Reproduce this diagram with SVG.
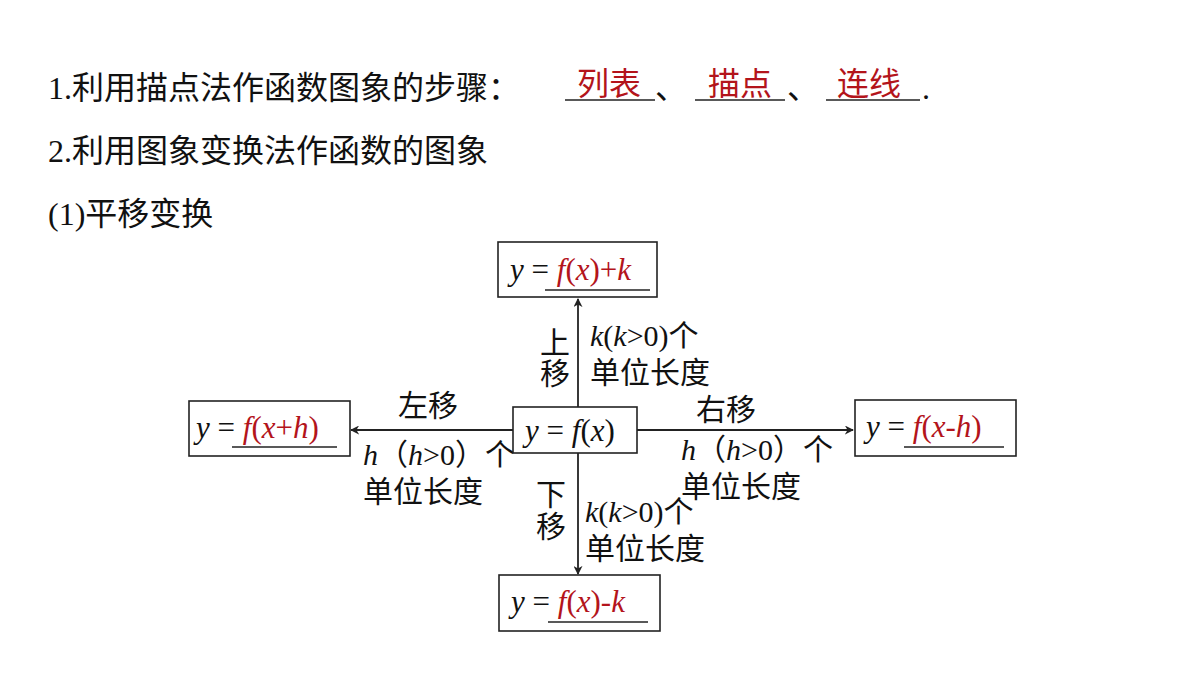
<svg xmlns="http://www.w3.org/2000/svg" width="1200" height="675" viewBox="0 0 1200 675">
<style>
.t{font-family:"Liberation Serif","Noto Sans CJK SC",serif;font-size:32px;fill:#111}
.l{font-family:"Liberation Serif","Noto Sans CJK SC",serif;font-size:30px;fill:#111}
.m{font-family:"Liberation Serif","Noto Sans CJK SC",serif;font-size:31px;fill:#111}
.r{fill:#b3141b}
.i{font-style:italic}
.box{fill:#fff;stroke:#222;stroke-width:1.6}
.ul{stroke:#222;stroke-width:1.5}
.c{stroke:#222;stroke-width:1.8;fill:none}
</style>
<defs><marker id="a" viewBox="0 0 10 10" refX="9" refY="5" markerWidth="9" markerHeight="9" markerUnits="userSpaceOnUse" orient="auto"><path d="M0,0 L10,5 L0,10 L3,5 Z" fill="#222"/></marker></defs>
<rect width="1200" height="675" fill="#fff"/>
<text class="t" x="48" y="99">1.利用描点法作函数图象的步骤：</text>
<text class="t r" x="577" y="95">列表</text>
<text class="t" x="655" y="99">、</text>
<text class="t r" x="708" y="95">描点</text>
<text class="t" x="787" y="99">、</text>
<text class="t r" x="837" y="95">连线</text>
<text class="t" x="922" y="99">.</text>
<g class="ul"><line x1="565" y1="100" x2="655" y2="100"/><line x1="695" y1="100" x2="785" y2="100"/><line x1="826" y1="100" x2="920" y2="100"/></g>
<text class="t" x="48" y="162">2.利用图象变换法作函数的图象</text>
<text class="t" x="48" y="225">(1)平移变换</text>
<g id="connectors">
<line class="c" x1="578" y1="407" x2="578" y2="299" marker-end="url(#a)"/>
<line class="c" x1="578" y1="453" x2="578" y2="574" marker-end="url(#a)"/>
<line class="c" x1="513" y1="430" x2="351" y2="430" marker-end="url(#a)"/>
<line class="c" x1="637" y1="430" x2="853" y2="430" marker-end="url(#a)"/>
<text class="l" x="540" y="353">上</text><text class="l" x="540" y="384">移</text>
<text class="l" x="590" y="346"><tspan class="i">k</tspan>(<tspan class="i">k</tspan>&gt;0)个</text>
<text class="l" x="590" y="383">单位长度</text>
<text class="l" x="536" y="505">下</text><text class="l" x="536" y="537">移</text>
<text class="l" x="585" y="522"><tspan class="i">k</tspan>(<tspan class="i">k</tspan>&gt;0)个</text>
<text class="l" x="585" y="559">单位长度</text>
<text class="l" x="398" y="416">左移</text>
<text class="l" x="363" y="465"><tspan class="i">h</tspan>（<tspan class="i">h</tspan>&gt;0）个</text>
<text class="l" x="363" y="502">单位长度</text>
<text class="l" x="696" y="420">右移</text>
<text class="l" x="681" y="460"><tspan class="i">h</tspan>（<tspan class="i">h</tspan>&gt;0）个</text>
<text class="l" x="681" y="497">单位长度</text>
</g>
<g id="top"><rect class="box" x="498" y="242" width="159" height="55"/><text class="m" x="510" y="280"><tspan class="i">y</tspan> = <tspan class="r"><tspan class="i">f</tspan>(<tspan class="i">x</tspan>)+<tspan class="i">k</tspan></tspan></text><line class="ul" x1="545" y1="290" x2="650" y2="290"/></g>
<g id="center"><rect class="box" x="513" y="407" width="124" height="46"/><text class="m" x="525" y="441"><tspan class="i">y</tspan> = <tspan class="i">f</tspan>(<tspan class="i">x</tspan>)</text></g>
<g id="left"><rect class="box" x="189" y="401" width="161" height="55"/><text class="m" x="196" y="438"><tspan class="i">y</tspan> = <tspan class="r"><tspan class="i">f</tspan>(<tspan class="i">x</tspan>+<tspan class="i">h</tspan>)</tspan></text><line class="ul" x1="232" y1="447" x2="337" y2="447"/></g>
<g id="right"><rect class="box" x="855" y="400" width="161" height="56"/><text class="m" x="866" y="437"><tspan class="i">y</tspan> = <tspan class="r"><tspan class="i">f</tspan>(<tspan class="i">x</tspan>-<tspan class="i">h</tspan>)</tspan></text><line class="ul" x1="904" y1="447" x2="1004" y2="447"/></g>
<g id="bottom"><rect class="box" x="499" y="575" width="161" height="56"/><text class="m" x="511" y="612"><tspan class="i">y</tspan> = <tspan class="r"><tspan class="i">f</tspan>(<tspan class="i">x</tspan>)-<tspan class="i">k</tspan></tspan></text><line class="ul" x1="548" y1="622" x2="648" y2="622"/></g>
</svg>
